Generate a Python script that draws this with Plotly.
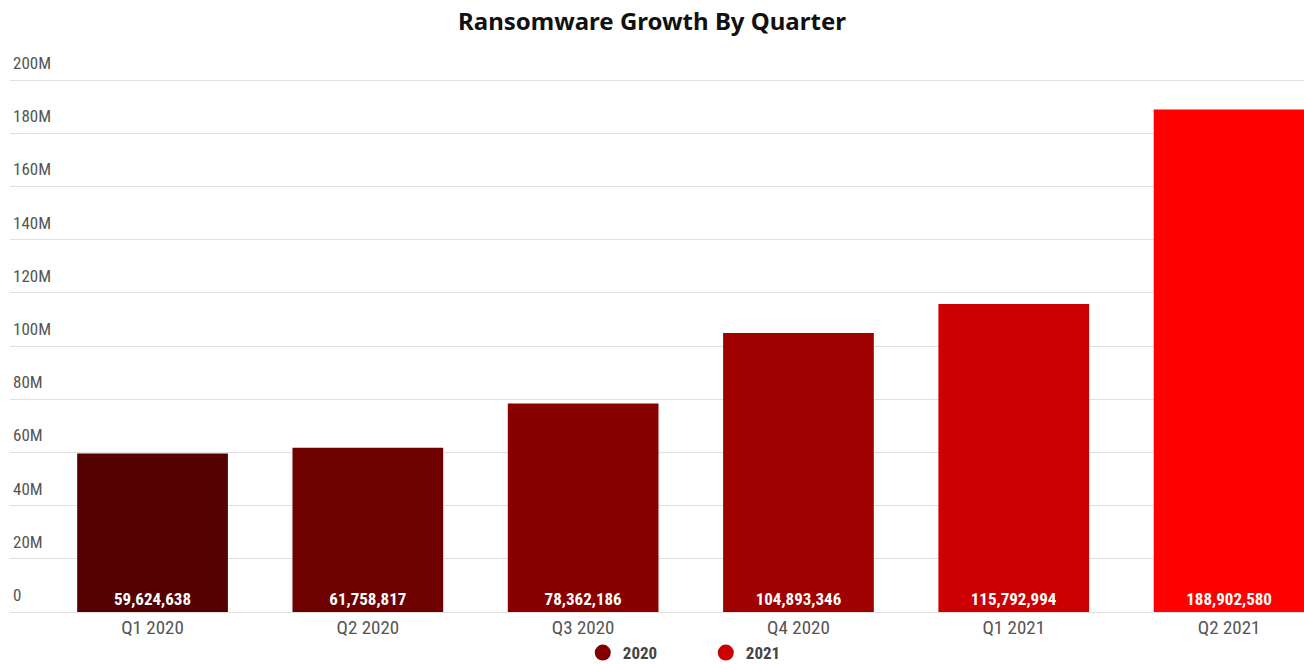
import plotly.graph_objects as go

# Quarterly ransomware attack counts
quarters_2020 = ["Q1 2020", "Q2 2020", "Q3 2020", "Q4 2020"]
values_2020 = [59624638, 61758817, 78362186, 104893346]
colors_2020 = ["#540000", "#6e0000", "#880000", "#9f0000"]

quarters_2021 = ["Q1 2021", "Q2 2021"]
values_2021 = [115792994, 188902580]
colors_2021 = ["#cc0000", "#ff0000"]

legend_years = ["2020", "2021"]
legend_colors = ["#800000", "#cc0000"]

y_tick_vals = [0, 20e6, 40e6, 60e6, 80e6, 100e6, 120e6, 140e6, 160e6, 180e6, 200e6]
y_tick_text = ["0", "20M", "40M", "60M", "80M", "100M", "120M", "140M", "160M", "180M", "200M"]

narrow = "Liberation Sans Narrow, Roboto Condensed, Arial Narrow, Liberation Sans, sans-serif"

fig = go.Figure()

for xs, ys, cols in [(quarters_2020, values_2020, colors_2020),
                     (quarters_2021, values_2021, colors_2021)]:
    fig.add_trace(go.Bar(
        x=xs, y=ys,
        marker=dict(color=cols, line=dict(width=0)),
        width=0.70,
        texttemplate="%{y:,}",
        textposition="inside",
        insidetextanchor="start",
        textangle=0,
        constraintext="none",
        textfont=dict(family=narrow, size=17, color="white", weight="bold"),
        showlegend=False,
        hoverinfo="skip",
    ))

# Legend entries drawn as round markers
for name, col in zip(legend_years, legend_colors):
    fig.add_trace(go.Scatter(
        x=[None], y=[None], mode="markers", name=name,
        marker=dict(symbol="circle", size=17, color=col),
    ))

fig.update_layout(
    width=1304, height=664,
    margin=dict(l=10, r=0, t=45, b=52, autoexpand=False),
    paper_bgcolor="white", plot_bgcolor="white",
    barmode="overlay",
    title=dict(
        text="Ransomware Growth By Quarter",
        x=0.5, xanchor="center", xref="container",
        y=1 - 22 / 664, yanchor="middle", yref="container",
        font=dict(family="Noto Sans, Open Sans, sans-serif", size=24, color="#111111", weight="bold"),
    ),
    xaxis=dict(
        categoryorder="array",
        categoryarray=quarters_2020 + quarters_2021,
        range=[-0.662, 5.348],
        showgrid=False, zeroline=False, showline=False,
        ticks="", ticklabelstandoff=2, automargin=False,
        tickfont=dict(family=narrow, size=19, color="#555555"),
    ),
    yaxis=dict(
        range=[0, 213.16e6],
        tickvals=y_tick_vals, ticktext=y_tick_text,
        ticklabelposition="inside",
        ticklabelshift=-17, automargin=False,
        tickfont=dict(family=narrow, size=17, color="#555555"),
        showgrid=True, gridcolor="#e0e0e0", gridwidth=1,
        zeroline=True, zerolinecolor="#e0e0e0", zerolinewidth=1,
        showline=False, ticks="",
    ),
    legend=dict(
        orientation="h", x=0.5377, xanchor="center",
        y=11 / 664, yanchor="middle", yref="container",
        bgcolor="rgba(0,0,0,0)",
        font=dict(family=narrow, size=17, color="#444444", weight="bold"),
        itemsizing="trace", entrywidth=78, entrywidthmode="pixels",
    ),
)

fig.write_html("out.html")
